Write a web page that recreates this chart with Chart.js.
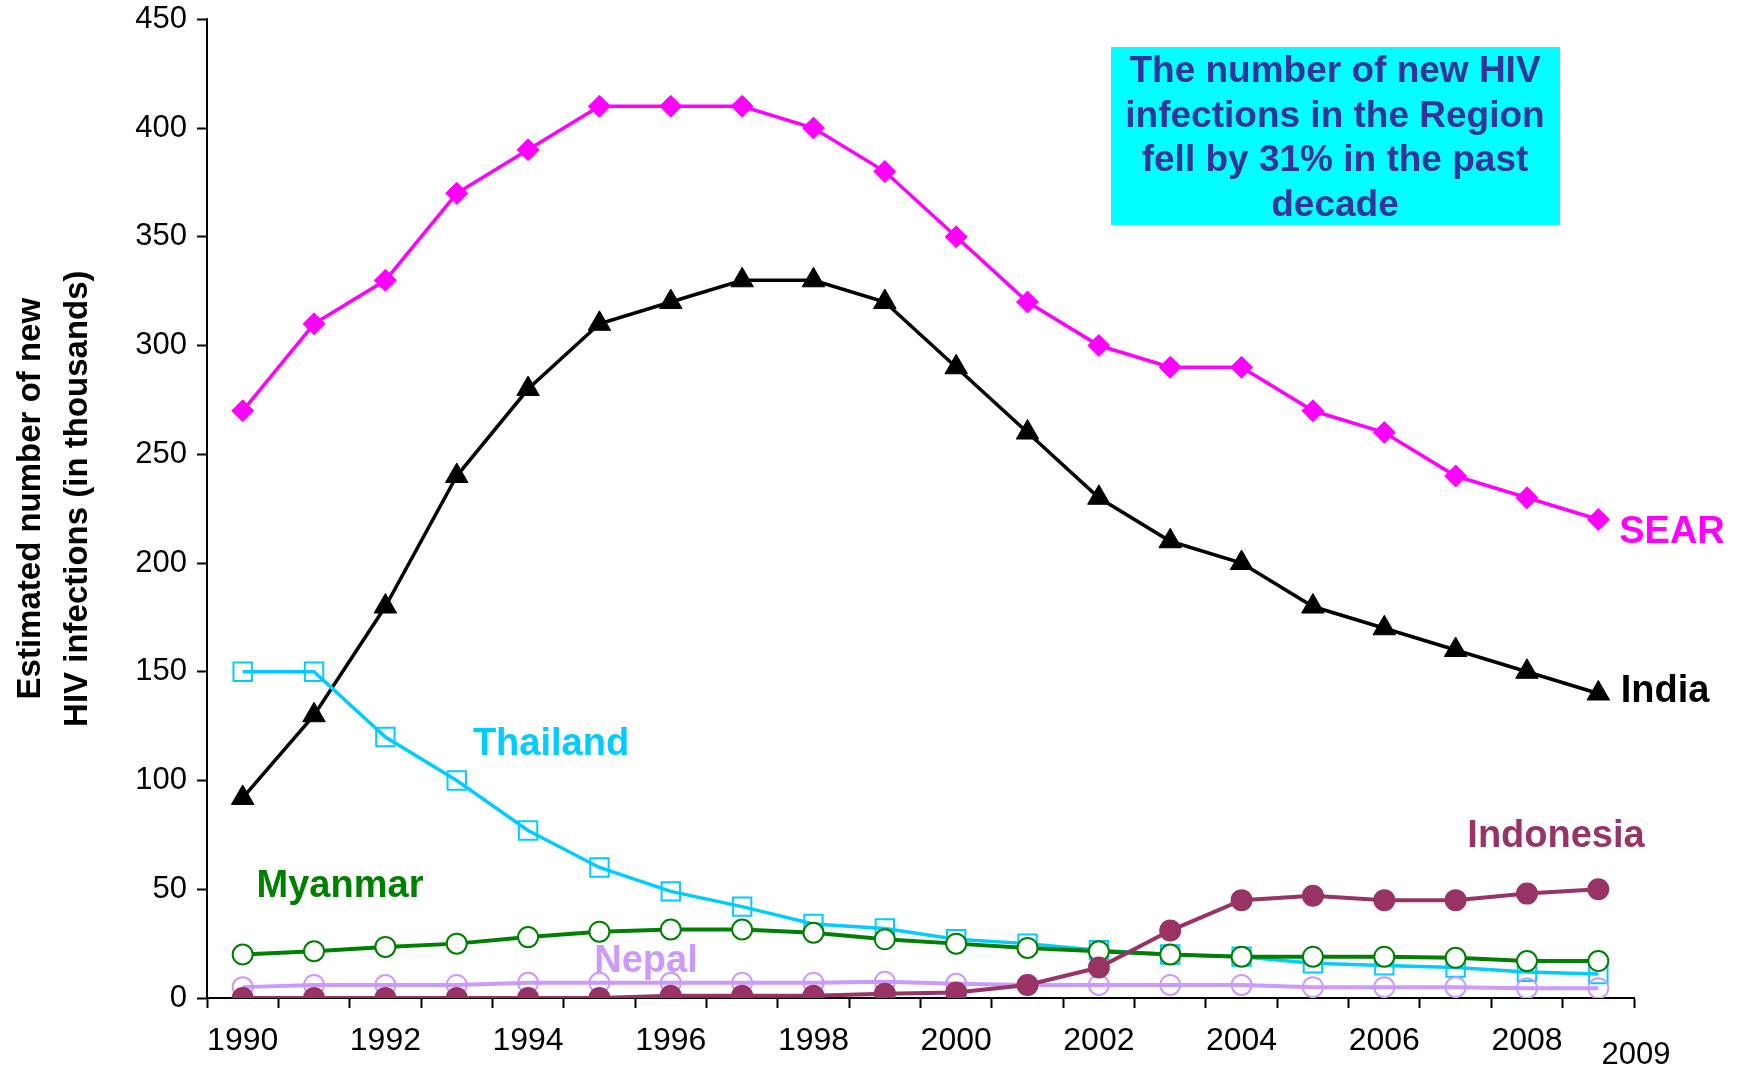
<!DOCTYPE html>
<html>
<head>
<meta charset="utf-8">
<script src="https://cdn.jsdelivr.net/npm/chart.js@4.4.1/dist/chart.umd.min.js"></script>
<style>
  html, body { margin: 0; padding: 0; background: #fff; }
  #wrap { width: 1738px; height: 1066px; position: relative; }
</style>
</head>
<body>
<div id="wrap"><canvas id="hiv"></canvas></div>
<script>
// data (thousands of new infections)
const years = ['1990','1991','1992','1993','1994','1995','1996','1997','1998','1999',
               '2000','2001','2002','2003','2004','2005','2006','2007','2008','2009'];
const sear      = [270, 310, 330, 370, 390, 410, 410, 410, 400, 380, 350, 320, 300, 290, 290, 270, 260, 240, 230, 220];
const india     = [92, 130, 180, 240, 280, 310, 320, 330, 330, 320, 290, 260, 230, 210, 200, 180, 170, 160, 150, 140];
const thailand  = [150, 150, 120, 100, 77, 60, 49, 42, 34, 32, 27, 25, 22, 20, 19, 16, 15, 14, 12, 11];
const myanmar   = [20, 21.5, 23.5, 25, 28, 30.5, 31.5, 31.5, 30, 27, 25, 23, 21.5, 20, 19, 19, 19, 18.5, 17, 17];
const nepal     = [5, 6, 6, 6, 7, 7, 7, 7, 7, 7.5, 6.5, 6, 6, 6, 6, 5, 5, 5, 4.5, 4.5];
const indonesia = [0, 0, 0, 0, 0, 0, 1, 1, 1, 2, 2.5, 6, 14, 31, 45, 47, 45, 45, 48, 50];
const yTicks    = [0, 50, 100, 150, 200, 250, 300, 350, 400, 450];

const boxLines = ['The number of new HIV', 'infections in the Region', 'fell by 31% in the past', 'decade'];

// series name labels placed next to the lines
const seriesLabels = [
  { text: 'SEAR',      color: '#FF00FF', x: 1672, y: 533 },
  { text: 'India',     color: '#000000', x: 1665, y: 692 },
  { text: 'Thailand',  color: '#00CCFF', x: 551,  y: 745 },
  { text: 'Indonesia', color: '#993366', x: 1556, y: 837 },
  { text: 'Myanmar',   color: '#008000', x: 340,  y: 887 },
  { text: 'Nepal',     color: '#CC99FF', x: 646,  y: 962 }
];

const FONT = '"Liberation Sans", Arial, sans-serif';

const overlay = {
  id: 'overlay',
  afterDraw(chart) {
    const ctx = chart.ctx;
    const area = chart.chartArea;

    // y axis title, two rotated lines
    const midY = (area.top + area.bottom) / 2 - 10;
    [['Estimated number of new', 31], ['HIV infections (in thousands)', 78]].forEach(([t, x]) => {
      ctx.save();
      ctx.fillStyle = '#000';
      ctx.font = 'bold 33px ' + FONT;
      ctx.textAlign = 'center';
      ctx.textBaseline = 'middle';
      ctx.translate(x, midY);
      ctx.rotate(-Math.PI / 2);
      ctx.fillText(t, 0, 0);
      ctx.restore();
    });

    ctx.save();
    ctx.textAlign = 'center';
    ctx.textBaseline = 'middle';
    // stray last year label at the end of the axis
    ctx.fillStyle = '#000';
    ctx.font = '31px ' + FONT;
    ctx.fillText('2009', area.right + 2, 1055);

    // series labels
    ctx.font = 'bold 38px ' + FONT;
    seriesLabels.forEach(l => {
      ctx.fillStyle = l.color;
      ctx.fillText(l.text, l.x, l.y);
    });

    // annotation box
    ctx.fillStyle = '#00FFFF';
    ctx.fillRect(1111, 47, 449, 178);
    ctx.fillStyle = '#333399';
    ctx.font = 'bold 37px ' + FONT;
    boxLines.forEach((t, i) => {
      ctx.fillText(t, 1335, 72 + i * 44.5);
    });
    ctx.restore();
  }
};

const ctx = document.getElementById('hiv').getContext('2d');
new Chart(ctx, {
  type: 'line',
  data: {
    labels: years,
    datasets: [
      { label: 'Indonesia', data: indonesia, borderColor: '#993366', backgroundColor: '#993366',
        pointStyle: 'circle', pointRadius: 10, pointBorderWidth: 2, borderWidth: 4 },
      { label: 'Nepal', data: nepal, borderColor: '#CC99FF', backgroundColor: 'rgba(0,0,0,0)',
        pointStyle: 'circle', pointRadius: 10, pointBorderWidth: 2, borderWidth: 4 },
      { label: 'Myanmar', data: myanmar, borderColor: '#008000', backgroundColor: '#FFFFFF',
        pointStyle: 'circle', pointRadius: 10, pointBorderWidth: 2, borderWidth: 4 },
      { label: 'Thailand', data: thailand, borderColor: '#00CCFF', backgroundColor: 'rgba(0,0,0,0)',
        pointStyle: 'rect', pointRadius: 13, pointBorderWidth: 2, borderWidth: 3.5 },
      { label: 'India', data: india, borderColor: '#000000', backgroundColor: '#000000',
        pointStyle: 'triangle', pointRadius: 13, pointBorderWidth: 1, borderWidth: 3.5 },
      { label: 'SEAR', data: sear, borderColor: '#FF00FF', backgroundColor: '#FF00FF',
        pointStyle: 'rectRot', pointRadius: 11, pointBorderWidth: 1, borderWidth: 3.5 }
    ]
  },
  options: {
    responsive: true,
    maintainAspectRatio: false,
    animation: false,
    layout: { padding: { left: 0, top: 14, right: 104, bottom: 0 } },
    plugins: {
      legend: { display: false },
      tooltip: { enabled: false }
    },
    elements: { line: { tension: 0 } },
    scales: {
      x: {
        offset: true,
        grid: { offset: true, drawOnChartArea: false, drawTicks: true, tickLength: 10, color: '#000', tickWidth: 2 },
        border: { color: '#000', width: 2 },
        ticks: {
          autoSkip: false,
          maxRotation: 0,
          color: '#000',
          padding: 14,
          font: { family: FONT, size: 32 },
          callback: function (v, i) { return (i % 2 === 0 && i < years.length - 1) ? years[i] : ''; }
        },
        afterFit(scale) { scale.height = 68; }
      },
      y: {
        min: 0,
        max: 450,
        afterBuildTicks(scale) { scale.ticks = yTicks.map(v => ({ value: v })); },
        grid: { drawOnChartArea: false, drawTicks: true, tickLength: 10, color: '#000', tickWidth: 2 },
        border: { color: '#000', width: 2 },
        ticks: {
          color: '#000',
          padding: 10,
          font: { family: FONT, size: 31, lineHeight: 0.6 }
        },
        afterFit(scale) { scale.width = 207; }
      }
    }
  },
  plugins: [overlay]
});
</script>
</body>
</html>
